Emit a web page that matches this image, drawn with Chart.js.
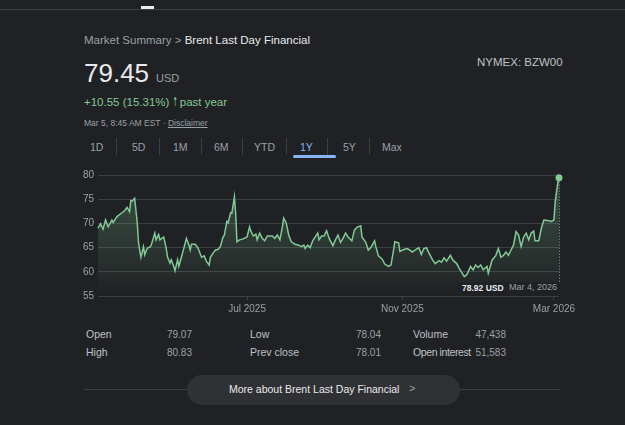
<!DOCTYPE html>
<html>
<head>
<meta charset="utf-8">
<script src="https://cdn.jsdelivr.net/npm/chart.js@4"></script>
<style>
  html, body { margin: 0; padding: 0; }
  body { width: 625px; height: 425px; background: #202124; overflow: hidden; position: relative; font-family: Arial, "Liberation Sans", sans-serif; }
  .abs { position: absolute; line-height: 1; white-space: nowrap; }
  .topline { position: absolute; left: 0; top: 9px; width: 625px; height: 1px; background: #3c4043; }
  .topmark { position: absolute; left: 141px; top: 6px; width: 13px; height: 3px; background: #e8eaed; }
  .crumb { left: 84px; top: 35px; font-size: 11.5px; color: #9aa0a6; }
  .crumb b { font-weight: normal; color: #e8eaed; }
  .price { left: 84px; top: 60px; font-size: 26px; color: #e8eaed; }
  .cur { left: 156px; top: 72.5px; font-size: 11px; color: #9aa0a6; }
  .chg { left: 84px; top: 97px; font-size: 11.5px; color: #81c995; }
  .stamp { left: 84px; top: 119px; font-size: 8.5px; color: #9aa0a6; }
  .stamp u { text-decoration: underline; }
  .ticker { left: 477px; top: 57px; font-size: 11.5px; color: #bdc1c6; }
  .tab { top: 142px; font-size: 10.5px; color: #9aa0a6; }
  .tab.on { color: #8ab4f8; }
  .sep { position: absolute; top: 138px; width: 1px; height: 17px; background: #3c4043; }
  .uline { position: absolute; left: 293px; top: 155px; width: 43px; height: 3px; border-radius: 2px; background: #8ab4f8; }
  #wrap { position: absolute; left: 76px; top: 163px; width: 525px; height: 151px; }
  .tipbox { position: absolute; left: 457px; top: 282px; width: 104px; height: 14px; background: #202124; }
  .tipv { left: 462px; top: 283.5px; font-size: 8.5px; font-weight: bold; color: #e8eaed; }
  .tipd { left: 509px; top: 283px; font-size: 9px; color: #9aa0a6; }
  .lbl { font-size: 10.5px; color: #bdc1c6; }
  .val { font-size: 10px; color: #9aa0a6; }
  .r { text-align: right; width: 60px; }
  .hr { position: absolute; left: 84px; top: 389px; width: 476px; height: 1px; background: #3c4043; }
  .pill { position: absolute; left: 187px; top: 375px; width: 273px; height: 30px; border-radius: 15px; background: #303134; }
  .more { left: 229px; top: 384px; font-size: 10.5px; color: #e8eaed; }
  .chev { left: 409px; top: 383px; font-size: 11px; color: #9aa0a6; }
</style>
</head>
<body>
<div class="topline"></div>
<div class="topmark"></div>

<div class="abs crumb">Market Summary &gt; <b>Brent Last Day Financial</b></div>
<div class="abs price">79.45</div>
<div class="abs cur">USD</div>
<div class="abs chg">+10.55 (15.31%) &#129041; past year</div>
<div class="abs stamp">Mar 5, 8:45 AM EST · <u>Disclaimer</u></div>
<div class="abs ticker">NYMEX: BZW00</div>

<div class="abs tab" style="left:90px">1D</div>
<div class="sep" style="left:116px"></div>
<div class="abs tab" style="left:132px">5D</div>
<div class="sep" style="left:159px"></div>
<div class="abs tab" style="left:173px">1M</div>
<div class="sep" style="left:201px"></div>
<div class="abs tab" style="left:214px">6M</div>
<div class="sep" style="left:242px"></div>
<div class="abs tab" style="left:254px">YTD</div>
<div class="sep" style="left:286px"></div>
<div class="abs tab on" style="left:300px">1Y</div>
<div class="sep" style="left:327px"></div>
<div class="abs tab" style="left:343px">5Y</div>
<div class="sep" style="left:369px"></div>
<div class="abs tab" style="left:382px">Max</div>
<div class="uline"></div>

<div id="wrap"><canvas id="chart"></canvas></div>
<div class="tipbox"></div>
<div class="abs tipv">78.92 USD</div>
<div class="abs tipd">Mar 4, 2026</div>

<div class="abs lbl" style="left:86px;top:329px">Open</div>
<div class="abs val r" style="left:132px;top:329.5px">79.07</div>
<div class="abs lbl" style="left:250px;top:329px">Low</div>
<div class="abs val r" style="left:321px;top:329.5px">78.04</div>
<div class="abs lbl" style="left:413px;top:329px">Volume</div>
<div class="abs val r" style="left:446px;top:329.5px">47,438</div>
<div class="abs lbl" style="left:86px;top:347px">High</div>
<div class="abs val r" style="left:132px;top:347.5px">80.83</div>
<div class="abs lbl" style="left:250px;top:347px">Prev close</div>
<div class="abs val r" style="left:321px;top:347.5px">78.01</div>
<div class="abs lbl" style="left:413px;top:347px;letter-spacing:-0.4px">Open interest</div>
<div class="abs val r" style="left:446px;top:347.5px">51,583</div>

<div class="hr"></div>
<div class="pill"></div>
<div class="abs more">More about Brent Last Day Financial</div>
<div class="abs chev">&gt;</div>

<script>
// days since Mar 5, 2025 and the price read at each of them
var days = [0, 2, 4, 6, 8, 11, 12, 15, 19, 21, 23, 25, 26, 27, 29, 31, 32, 33, 34, 36,
  37, 39, 41, 42, 45, 46, 48, 49, 52, 54, 55, 57, 58, 60, 61, 63, 64, 66, 68, 70,
  72, 73, 74, 77, 79, 82, 84, 86, 88, 89, 91, 93, 95, 97, 99, 100, 102, 103, 105, 106,
  108, 109, 110, 112, 115, 118, 120, 121, 123, 125, 126, 128, 130, 132, 134, 138, 140, 142, 144, 146,
  147, 149, 151, 153, 156, 159, 161, 163, 164, 166, 168, 170, 172, 174, 175, 177, 179, 181, 183, 186,
  188, 190, 192, 194, 196, 198, 201, 203, 205, 208, 209, 212, 214, 216, 219, 220, 222, 225, 227, 230,
  232, 234, 235, 238, 239, 242, 245, 249, 251, 254, 256, 258, 260, 262, 265, 267, 270, 272, 274, 276,
  279, 281, 284, 286, 290, 292, 295, 297, 299, 301, 303, 305, 308, 309, 312, 315, 317, 319, 321, 323,
  325, 327, 329, 331, 333, 335, 337, 339, 341, 343, 345, 346, 349, 351, 353, 356, 359, 361, 362, 364,
  365];
var prices = [69.0, 69.9, 68.8, 70.7, 69.3, 70.7, 70.2, 71.4, 72.2, 72.6, 73.3, 72.4, 74.7, 74.6, 75.2, 70.4, 66.2, 64.5, 63.0, 65.2,
  63.5, 64.9, 65.1, 65.4, 68.0, 66.6, 67.7, 66.6, 67.2, 64.9, 63.1, 61.8, 62.5, 61.1, 60.2, 62.5, 61.1, 63.0, 64.9, 66.9,
  65.5, 64.5, 65.7, 65.7, 65.0, 63.0, 63.3, 62.1, 61.4, 63.0, 63.8, 64.5, 64.6, 65.3, 67.2, 67.5, 70.4, 70.1, 72.2, 72.1,
  75.5, 72.1, 66.2, 66.6, 66.8, 67.2, 69.3, 68.4, 67.4, 67.8, 66.6, 68.0, 66.9, 66.4, 67.4, 67.4, 66.9, 67.6, 66.6, 69.3,
  71.1, 70.1, 67.6, 66.2, 65.7, 65.5, 65.2, 65.5, 64.8, 65.5, 65.0, 66.4, 67.2, 68.0, 66.6, 67.4, 67.4, 68.5, 66.9, 65.4,
  66.6, 67.6, 66.1, 66.9, 68.0, 67.2, 66.4, 68.6, 69.2, 69.5, 67.2, 66.1, 64.5, 65.0, 66.4, 65.2, 63.3, 62.6, 61.6, 61.1,
  61.4, 64.5, 66.2, 66.0, 64.2, 64.6, 64.8, 64.1, 64.5, 65.0, 63.6, 64.8, 65.0, 63.9, 62.4, 61.7, 62.3, 62.0, 62.9, 62.2,
  63.4, 62.4, 61.7, 60.7, 59.0, 59.4, 61.1, 60.4, 61.4, 60.9, 61.4, 60.4, 61.1, 59.7, 62.4, 63.4, 64.8, 63.0, 63.4, 64.1,
  63.4, 64.5, 65.5, 68.3, 67.6, 65.2, 67.2, 68.0, 66.6, 68.0, 68.4, 66.4, 66.4, 69.0, 70.7, 70.6, 70.4, 70.7, 74.5, 78.3,
  79.45];
var xTickDays = [118, 241, 361];
var xTickLabels = ["Jul 2025", "Nov 2025", "Mar 2026"];
var yTicks = [55, 60, 65, 70, 75, 80];

var lineGreen = "#81c995";
var gridGrey = "#3c4043";
var textGrey = "#9aa0a6";

Chart.defaults.font.family = "Arial, 'Liberation Sans', sans-serif";
Chart.defaults.color = textGrey;

var points = days.map(function (d, i) { return { x: d, y: prices[i] }; });
var last = points.length - 1;

// dotted hover line from the last point down to the bottom
var hoverLine = {
    id: "hoverLine",
    afterDatasetsDraw: function (chart) {
        var pt = chart.getDatasetMeta(0).data[last];
        var ctx = chart.ctx;
        ctx.save();
        ctx.strokeStyle = "#9aa0a6";
        ctx.lineWidth = 1;
        ctx.setLineDash([1, 2]);
        ctx.beginPath();
        ctx.moveTo(Math.round(pt.x) + 0.5, pt.y + 4);
        ctx.lineTo(Math.round(pt.x) + 0.5, chart.chartArea.bottom - 14);
        ctx.stroke();
        ctx.restore();
    }
};

var ctx = document.getElementById("chart").getContext("2d");
var chart = new Chart(ctx, {
    type: "line",
    data: {
        datasets: [{
            data: points,
            borderColor: lineGreen,
            borderWidth: 1.5,
            tension: 0,
            clip: false,
            fill: "start",
            backgroundColor: function (c) {
                var area = c.chart.chartArea;
                if (!area) return "rgba(129,201,149,0.15)";
                var g = c.chart.ctx.createLinearGradient(0, area.top, 0, area.bottom);
                g.addColorStop(0, "rgba(129,201,149,0.30)");
                g.addColorStop(1, "rgba(129,201,149,0.0)");
                return g;
            },
            pointRadius: function (c) { return c.dataIndex === last ? 3.5 : 0; },
            pointBackgroundColor: lineGreen,
            pointBorderWidth: 0
        }]
    },
    options: {
        responsive: true,
        maintainAspectRatio: false,
        animation: false,
        layout: { padding: { top: 12, right: 42, left: 0, bottom: 0 } },
        plugins: { legend: { display: false }, tooltip: { enabled: false } },
        scales: {
            x: {
                type: "linear",
                min: 0,
                max: 365,
                afterBuildTicks: function (scale) {
                    scale.ticks = xTickDays.map(function (v) { return { value: v }; });
                },
                afterFit: function (scale) { scale.height = 18; },
                ticks: {
                    autoSkip: false,
                    maxRotation: 0,
                    padding: 3,
                    font: { size: 10 },
                    color: textGrey,
                    callback: function (v) {
                        var i = xTickDays.indexOf(v);
                        return i >= 0 ? xTickLabels[i] : "";
                    }
                },
                grid: { drawOnChartArea: false, color: gridGrey, tickLength: 4 },
                border: { display: false }
            },
            y: {
                min: 55,
                max: 80,
                afterBuildTicks: function (scale) {
                    scale.ticks = yTicks.map(function (v) { return { value: v }; });
                },
                afterFit: function (scale) { scale.width = 22; },
                ticks: { padding: 4, font: { size: 10 }, color: textGrey },
                grid: { color: gridGrey, drawTicks: false },
                border: { display: false }
            }
        }
    },
    plugins: [hoverLine]
});
</script>
</body>
</html>
